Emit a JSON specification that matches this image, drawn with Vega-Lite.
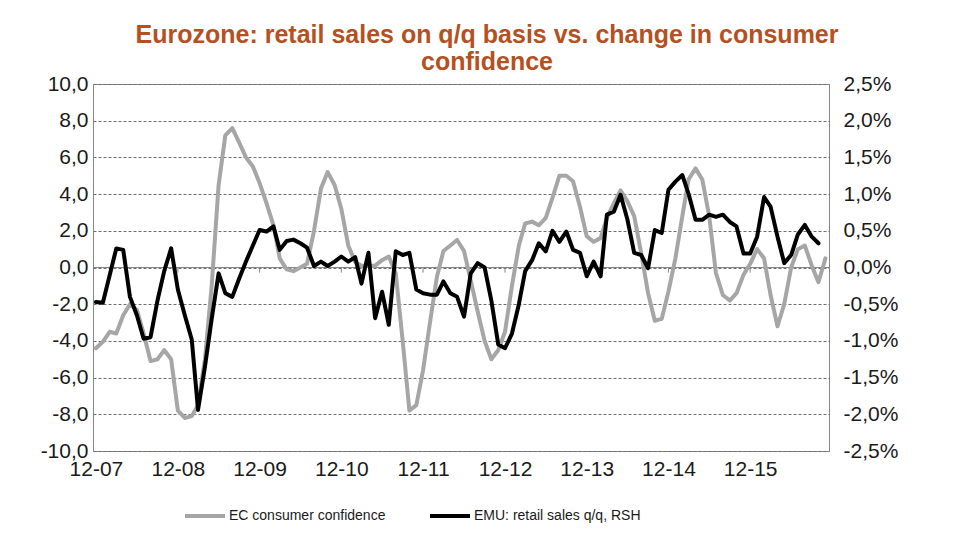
{
  "$schema": "https://vega.github.io/schema/vega-lite/v6.json",
  "width": 736,
  "height": 367,
  "autosize": {"type": "none"},
  "padding": {"left": 93, "top": 84, "right": 126, "bottom": 88},
  "background": "white",
  "title": {
    "text": ["Eurozone: retail sales on q/q basis vs. change in consumer", "confidence"],
    "fontSize": 25,
    "font": "Liberation Sans",
    "fontWeight": "bold",
    "color": "#b5501f",
    "anchor": "middle",
    "dx": 26,
    "offset": -2,
    "lineHeight": 27
  },
  "datasets": {
    "m": [
      {"d": "2007-12-01", "c": -4.4, "r": -0.47},
      {"d": "2008-01-01", "c": -4.05, "r": -0.48},
      {"d": "2008-02-01", "c": -3.5, "r": -0.1},
      {"d": "2008-03-01", "c": -3.6, "r": 0.26},
      {"d": "2008-04-01", "c": -2.6, "r": 0.24},
      {"d": "2008-05-01", "c": -2.0, "r": -0.4},
      {"d": "2008-06-01", "c": -2.3, "r": -0.65},
      {"d": "2008-07-01", "c": -3.6, "r": -0.97},
      {"d": "2008-08-01", "c": -5.1, "r": -0.95},
      {"d": "2008-09-01", "c": -5.0, "r": -0.45},
      {"d": "2008-10-01", "c": -4.5, "r": -0.05},
      {"d": "2008-11-01", "c": -5.0, "r": 0.26},
      {"d": "2008-12-01", "c": -7.8, "r": -0.3},
      {"d": "2009-01-01", "c": -8.2, "r": -0.65},
      {"d": "2009-02-01", "c": -8.1, "r": -0.98},
      {"d": "2009-03-01", "c": -7.5, "r": -1.94},
      {"d": "2009-04-01", "c": -5.0, "r": -1.35},
      {"d": "2009-05-01", "c": -1.0, "r": -0.7},
      {"d": "2009-06-01", "c": 4.5, "r": -0.08},
      {"d": "2009-07-01", "c": 7.2, "r": -0.35},
      {"d": "2009-08-01", "c": 7.6, "r": -0.4},
      {"d": "2009-09-01", "c": 6.8, "r": -0.15},
      {"d": "2009-10-01", "c": 6.0, "r": 0.08},
      {"d": "2009-11-01", "c": 5.5, "r": 0.3},
      {"d": "2009-12-01", "c": 4.6, "r": 0.51},
      {"d": "2010-01-01", "c": 3.5, "r": 0.49},
      {"d": "2010-02-01", "c": 2.3, "r": 0.56},
      {"d": "2010-03-01", "c": 0.5, "r": 0.24},
      {"d": "2010-04-01", "c": -0.1, "r": 0.36},
      {"d": "2010-05-01", "c": -0.2, "r": 0.38},
      {"d": "2010-06-01", "c": 0.0, "r": 0.33},
      {"d": "2010-07-01", "c": 0.2, "r": 0.27},
      {"d": "2010-08-01", "c": 2.0, "r": 0.02},
      {"d": "2010-09-01", "c": 4.3, "r": 0.08},
      {"d": "2010-10-01", "c": 5.2, "r": 0.02},
      {"d": "2010-11-01", "c": 4.5, "r": 0.08},
      {"d": "2010-12-01", "c": 3.2, "r": 0.15},
      {"d": "2011-01-01", "c": 1.2, "r": 0.08},
      {"d": "2011-02-01", "c": 0.3, "r": 0.14},
      {"d": "2011-03-01", "c": 0.1, "r": -0.22},
      {"d": "2011-04-01", "c": 0.1, "r": 0.2},
      {"d": "2011-05-01", "c": 0.1, "r": -0.69},
      {"d": "2011-06-01", "c": 0.4, "r": -0.33},
      {"d": "2011-07-01", "c": 0.6, "r": -0.78},
      {"d": "2011-08-01", "c": -0.3, "r": 0.22},
      {"d": "2011-09-01", "c": -4.0, "r": 0.17},
      {"d": "2011-10-01", "c": -7.8, "r": 0.2},
      {"d": "2011-11-01", "c": -7.5, "r": -0.3},
      {"d": "2011-12-01", "c": -5.6, "r": -0.35},
      {"d": "2012-01-01", "c": -3.0, "r": -0.37},
      {"d": "2012-02-01", "c": -0.5, "r": -0.37},
      {"d": "2012-03-01", "c": 0.9, "r": -0.19},
      {"d": "2012-04-01", "c": 1.2, "r": -0.35},
      {"d": "2012-05-01", "c": 1.5, "r": -0.4},
      {"d": "2012-06-01", "c": 0.9, "r": -0.67},
      {"d": "2012-07-01", "c": -0.7, "r": -0.08},
      {"d": "2012-08-01", "c": -2.4, "r": 0.06},
      {"d": "2012-09-01", "c": -4.0, "r": 0.0},
      {"d": "2012-10-01", "c": -5.0, "r": -0.45},
      {"d": "2012-11-01", "c": -4.5, "r": -1.05},
      {"d": "2012-12-01", "c": -3.5, "r": -1.1},
      {"d": "2013-01-01", "c": -1.0, "r": -0.9},
      {"d": "2013-02-01", "c": 1.2, "r": -0.5},
      {"d": "2013-03-01", "c": 2.4, "r": -0.05},
      {"d": "2013-04-01", "c": 2.5, "r": 0.1},
      {"d": "2013-05-01", "c": 2.3, "r": 0.33},
      {"d": "2013-06-01", "c": 2.7, "r": 0.22},
      {"d": "2013-07-01", "c": 3.8, "r": 0.5},
      {"d": "2013-08-01", "c": 5.0, "r": 0.35},
      {"d": "2013-09-01", "c": 5.0, "r": 0.49},
      {"d": "2013-10-01", "c": 4.7, "r": 0.24},
      {"d": "2013-11-01", "c": 3.3, "r": 0.2},
      {"d": "2013-12-01", "c": 1.7, "r": -0.12},
      {"d": "2014-01-01", "c": 1.4, "r": 0.08},
      {"d": "2014-02-01", "c": 1.6, "r": -0.12},
      {"d": "2014-03-01", "c": 2.7, "r": 0.72},
      {"d": "2014-04-01", "c": 3.5, "r": 0.76},
      {"d": "2014-05-01", "c": 4.2, "r": 0.99},
      {"d": "2014-06-01", "c": 3.6, "r": 0.65},
      {"d": "2014-07-01", "c": 2.8, "r": 0.2},
      {"d": "2014-08-01", "c": 0.8, "r": 0.17},
      {"d": "2014-09-01", "c": -1.4, "r": -0.01},
      {"d": "2014-10-01", "c": -2.9, "r": 0.51},
      {"d": "2014-11-01", "c": -2.8, "r": 0.47},
      {"d": "2014-12-01", "c": -1.3, "r": 1.06},
      {"d": "2015-01-01", "c": 0.5, "r": 1.17},
      {"d": "2015-02-01", "c": 2.8, "r": 1.26},
      {"d": "2015-03-01", "c": 4.8, "r": 1.0},
      {"d": "2015-04-01", "c": 5.4, "r": 0.65},
      {"d": "2015-05-01", "c": 4.8, "r": 0.65},
      {"d": "2015-06-01", "c": 2.8, "r": 0.72},
      {"d": "2015-07-01", "c": -0.3, "r": 0.69},
      {"d": "2015-08-01", "c": -1.5, "r": 0.72},
      {"d": "2015-09-01", "c": -1.8, "r": 0.62},
      {"d": "2015-10-01", "c": -1.4, "r": 0.56},
      {"d": "2015-11-01", "c": -0.4, "r": 0.19},
      {"d": "2015-12-01", "c": 0.2, "r": 0.19},
      {"d": "2016-01-01", "c": 1.0, "r": 0.42},
      {"d": "2016-02-01", "c": 0.5, "r": 0.96},
      {"d": "2016-03-01", "c": -1.5, "r": 0.83},
      {"d": "2016-04-01", "c": -3.2, "r": 0.42},
      {"d": "2016-05-01", "c": -2.0, "r": 0.06},
      {"d": "2016-06-01", "c": 0.0, "r": 0.17},
      {"d": "2016-07-01", "c": 1.0, "r": 0.45},
      {"d": "2016-08-01", "c": 1.2, "r": 0.58},
      {"d": "2016-09-01", "c": 0.1, "r": 0.42},
      {"d": "2016-10-01", "c": -0.8, "r": 0.33},
      {"d": "2016-11-01", "c": 0.5, "r": null}
    ],
    "t": [
      {"d": "2008-12-01"}, {"d": "2009-12-01"}, {"d": "2010-12-01"}, {"d": "2011-12-01"},
      {"d": "2012-12-01"}, {"d": "2013-12-01"}, {"d": "2014-12-01"}, {"d": "2015-12-01"}
    ]
  },
  "data": {"name": "m"},
  "layer": [
    {
      "layer": [
        {
          "mark": {"type": "rule", "color": "#868686", "strokeWidth": 1},
          "encoding": {
            "y": {"datum": 0, "type": "quantitative", "scale": {"domain": [-10, 10]}}
          }
        },
        {
          "data": {"name": "t"},
          "mark": {"type": "rule", "color": "#868686", "strokeWidth": 1},
          "encoding": {
            "x": {"field": "d", "type": "temporal",
                  "scale": {"type": "utc", "domain": [{"year": 2007, "month": 11, "date": 18, "utc": true}, {"year": 2016, "month": 11, "date": 17, "utc": true}]}},
            "y": {"datum": 0, "type": "quantitative", "scale": {"domain": [-10, 10]}},
            "y2": {"datum": -0.28}
          }
        },
        {
          "mark": {"type": "line", "strokeWidth": 4, "strokeJoin": "round", "strokeCap": "round"},
          "encoding": {
            "x": {"field": "d", "type": "temporal",
                  "scale": {"type": "utc", "domain": [{"year": 2007, "month": 11, "date": 18, "utc": true}, {"year": 2016, "month": 11, "date": 17, "utc": true}]},
                  "axis": {"title": null, "format": "%m-%y", "ticks": false, "domain": false, "grid": false, "labelPadding": 7,
                           "labelFontSize": 21, "labelFont": "Liberation Sans", "labelColor": "#1a1a1a", "labelOverlap": false,
                           "values": [{"year": 2007, "month": 12, "date": 1, "utc": true}, {"year": 2008, "month": 12, "date": 1, "utc": true},
                                      {"year": 2009, "month": 12, "date": 1, "utc": true}, {"year": 2010, "month": 12, "date": 1, "utc": true},
                                      {"year": 2011, "month": 12, "date": 1, "utc": true}, {"year": 2012, "month": 12, "date": 1, "utc": true},
                                      {"year": 2013, "month": 12, "date": 1, "utc": true}, {"year": 2014, "month": 12, "date": 1, "utc": true},
                                      {"year": 2015, "month": 12, "date": 1, "utc": true}]}},
            "y": {"field": "c", "type": "quantitative", "scale": {"domain": [-10, 10]},
                  "axis": {"title": null, "values": [-10, -8, -6, -4, -2, 0, 2, 4, 6, 8, 10], "tickCount": 11, "labelOverlap": false,
                           "labelExpr": "(datum.value < 0 ? '-' : '') + replace(format(abs(datum.value), '.1f'), '.', ',')",
                           "grid": true, "gridDash": [3, 2], "gridColor": "#6e6e6e", "gridWidth": 1, "gridOpacity": 1,
                           "ticks": false, "domain": false, "labelPadding": 5, "labelFontSize": 21,
                           "labelFont": "Liberation Sans", "labelColor": "#1a1a1a"}},
            "color": {"datum": "EC consumer confidence", "type": "nominal",
                      "scale": {"domain": ["EC consumer confidence", "EMU: retail sales q/q, RSH"], "range": ["#a6a6a6", "#000000"]},
                      "legend": {"orient": "none", "legendX": 90, "legendY": 410, "direction": "horizontal", "title": null,
                                 "symbolType": "stroke", "symbolSize": 1600, "symbolStrokeWidth": 4, "labelFontSize": 14,
                                 "labelFont": "Liberation Sans", "labelColor": "#1a1a1a", "labelOffset": 2, "columnPadding": 36,
                                 "padding": 0, "labelLimit": 300}}
          }
        }
      ]
    },
    {
      "mark": {"type": "line", "strokeWidth": 4, "strokeJoin": "round", "strokeCap": "round"},
      "encoding": {
        "x": {"field": "d", "type": "temporal",
              "scale": {"type": "utc", "domain": [{"year": 2007, "month": 11, "date": 18, "utc": true}, {"year": 2016, "month": 11, "date": 17, "utc": true}]},
              "axis": {"title": null, "format": "%m-%y", "ticks": false, "domain": false, "grid": false, "labelPadding": 7,
                       "labelFontSize": 21, "labelFont": "Liberation Sans", "labelColor": "#1a1a1a", "labelOverlap": false,
                       "values": [{"year": 2007, "month": 12, "date": 1, "utc": true}, {"year": 2008, "month": 12, "date": 1, "utc": true},
                                  {"year": 2009, "month": 12, "date": 1, "utc": true}, {"year": 2010, "month": 12, "date": 1, "utc": true},
                                  {"year": 2011, "month": 12, "date": 1, "utc": true}, {"year": 2012, "month": 12, "date": 1, "utc": true},
                                  {"year": 2013, "month": 12, "date": 1, "utc": true}, {"year": 2014, "month": 12, "date": 1, "utc": true},
                                  {"year": 2015, "month": 12, "date": 1, "utc": true}]}},
        "y": {"field": "r", "type": "quantitative", "scale": {"domain": [-2.5, 2.5]},
              "axis": {"orient": "right", "title": null, "values": [-2.5, -2, -1.5, -1, -0.5, 0, 0.5, 1, 1.5, 2, 2.5], "labelOverlap": false,
                       "labelExpr": "(datum.value < 0 ? '-' : '') + replace(format(abs(datum.value), '.1f'), '.', ',') + '%'",
                       "grid": false, "ticks": false, "domain": false, "labelPadding": 14, "labelFontSize": 21,
                       "labelFont": "Liberation Sans", "labelColor": "#1a1a1a"}},
        "color": {"datum": "EMU: retail sales q/q, RSH", "type": "nominal"}
      }
    }
  ],
  "resolve": {"scale": {"y": "independent"}},
  "config": {
    "font": "Liberation Sans",
    "view": {"stroke": "#868686", "strokeWidth": 1}
  }
}
